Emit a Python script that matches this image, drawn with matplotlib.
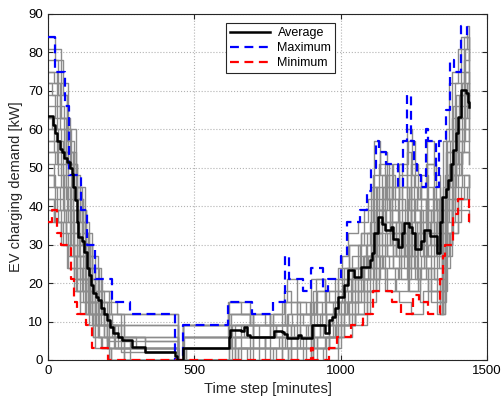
import matplotlib
matplotlib.use("Agg")
import matplotlib.pyplot as plt
import numpy as np

plt.rcParams['font.family'] = ['Liberation Sans', 'DejaVu Sans']

# breakpoints (time [min], demand [kW]) of the step curves
avg_curve = [(0, 63.5), (18, 61), (24, 59), (30, 57), (40, 55), (47, 54), (55, 52.5), (64, 51.5),
             (75, 50), (81, 48.5), (87, 45), (92, 41.5), (98, 36), (104, 32), (116, 31), (122, 28),
             (132, 24), (140, 22), (148, 19.5), (155, 17.5), (165, 16.5), (172, 15.5), (180, 13.5),
             (190, 12), (200, 10.5), (212, 8.5), (223, 7), (240, 6), (252, 5.2), (286, 3.5),
             (331, 2.1), (434, 1), (440, 0), (461, 3.1), (618, 6), (622, 7.8), (660, 7.5),
             (670, 8.5), (680, 6.5), (689, 6), (765, 6), (771, 7.6), (800, 7.2), (805, 6.8),
             (818, 5.6), (855, 6.6), (865, 5.6), (901, 9.1), (947, 7), (960, 10.4), (969, 11.3),
             (980, 13.5), (992, 16.5), (1010, 19.5), (1026, 23.4), (1046, 21.6), (1070, 24.3),
             (1100, 26), (1106, 27.8), (1115, 33), (1128, 37.3), (1140, 35.5), (1150, 33.8),
             (1172, 34.6), (1180, 31.5), (1195, 29.4), (1210, 33), (1218, 35.6), (1235, 34.5),
             (1245, 33), (1255, 29), (1275, 31), (1285, 33.8), (1305, 32.2), (1330, 27.8),
             (1340, 36), (1347, 42.4), (1360, 44.5), (1368, 46.8), (1378, 51), (1385, 54.6),
             (1395, 59), (1402, 63.2), (1412, 70.2), (1428, 69.5), (1436, 67), (1440, 65.9)]

max_curve = [(0, 84), (24, 75), (58, 66), (72, 48), (113, 39), (133, 30), (160, 21), (217, 15),
             (280, 12), (434, 0), (461, 9), (615, 15), (696, 12), (769, 15), (810, 27), (825, 21),
             (872, 18), (900, 24), (940, 18), (958, 21), (1000, 27), (1020, 36), (1066, 39),
             (1089, 44), (1105, 50), (1120, 57), (1132, 54), (1155, 51), (1197, 45), (1213, 57),
             (1225, 69), (1240, 57), (1250, 51), (1260, 48), (1275, 45), (1290, 60), (1300, 57),
             (1325, 45), (1336, 57), (1360, 65), (1375, 78), (1388, 75), (1412, 87), (1433, 84),
             (1440, 84)]

min_curve = [(0, 36), (14, 39), (32, 33), (45, 30), (80, 21), (88, 15), (100, 12), (130, 9),
             (150, 3), (205, 0), (897, 3), (905, 0), (960, 3), (988, 6), (1035, 9), (1075, 12),
             (1110, 18), (1175, 15), (1205, 12), (1248, 17), (1268, 15), (1297, 12), (1340, 21),
             (1348, 27), (1358, 30), (1385, 38), (1400, 42), (1437, 36), (1440, 36)]

gray_scenarios = [
    [(0, 81), (20, 81), (45, 72), (70, 60), (95, 45), (125, 33), (150, 24), (180, 15), (235, 12),
     (434, 12), (445, 0), (460, 9), (620, 15), (690, 9), (760, 12), (800, 15), (815, 21), (850, 12),
     (905, 18), (960, 15), (1010, 24), (1065, 30), (1115, 42), (1130, 51), (1165, 39), (1200, 30),
     (1225, 48), (1250, 36), (1290, 42), (1330, 30), (1360, 54), (1385, 66), (1420, 78), (1440, 72)],
    [(0, 78), (35, 69), (65, 57), (90, 48), (110, 36), (140, 27), (170, 18), (210, 9), (434, 9),
     (445, 0), (462, 6), (625, 12), (700, 6), (770, 9), (820, 12), (870, 9), (910, 15), (990, 18),
     (1040, 27), (1090, 33), (1120, 45), (1150, 36), (1190, 27), (1230, 36), (1260, 30), (1295, 45),
     (1320, 33), (1345, 27), (1365, 48), (1395, 60), (1425, 69), (1440, 66)],
    [(0, 75), (30, 66), (55, 54), (85, 42), (115, 30), (145, 21), (185, 12), (250, 6), (434, 6),
     (445, 0), (465, 3), (630, 9), (680, 6), (740, 3), (800, 9), (860, 6), (900, 12), (950, 9),
     (1000, 15), (1050, 21), (1095, 27), (1115, 36), (1145, 45), (1175, 33), (1215, 24), (1240, 39),
     (1270, 30), (1305, 36), (1335, 24), (1360, 39), (1390, 51), (1415, 57), (1440, 54)],
    [(0, 72), (40, 63), (75, 51), (100, 39), (130, 27), (160, 15), (200, 9), (260, 3), (434, 3),
     (445, 0), (470, 3), (640, 6), (720, 3), (790, 6), (830, 3), (905, 9), (960, 6), (1010, 12),
     (1060, 18), (1100, 24), (1120, 30), (1160, 27), (1200, 33), (1230, 21), (1275, 27), (1310, 18),
     (1340, 15), (1355, 30), (1380, 42), (1420, 48), (1440, 45)],
    [(0, 69), (25, 63), (60, 54), (95, 42), (120, 30), (150, 18), (190, 6), (260, 0), (650, 3),
     (700, 0), (820, 3), (880, 0), (905, 6), (960, 3), (1000, 9), (1040, 12), (1090, 18), (1120, 27),
     (1150, 21), (1190, 18), (1230, 24), (1270, 15), (1300, 21), (1340, 12), (1355, 27), (1380, 39),
     (1400, 42), (1440, 42)],
    [(0, 66), (30, 60), (60, 51), (85, 45), (115, 33), (140, 24), (175, 12), (220, 6), (434, 6),
     (445, 0), (462, 9), (690, 12), (760, 9), (810, 15), (860, 12), (915, 21), (945, 15), (990, 21),
     (1030, 30), (1080, 39), (1110, 48), (1135, 54), (1160, 45), (1200, 51), (1230, 57), (1255, 45),
     (1290, 51), (1325, 39), (1350, 57), (1370, 72), (1400, 81), (1430, 87), (1440, 78)],
    [(0, 63), (20, 57), (50, 48), (80, 39), (105, 30), (135, 21), (160, 12), (200, 3), (434, 3),
     (445, 0), (465, 6), (700, 9), (780, 6), (830, 9), (890, 6), (930, 12), (980, 18), (1020, 24),
     (1070, 33), (1105, 30), (1130, 42), (1170, 33), (1210, 39), (1240, 51), (1265, 42), (1300, 33),
     (1330, 42), (1350, 36), (1370, 51), (1400, 63), (1425, 75), (1440, 63)],
    [(0, 60), (45, 54), (70, 45), (100, 36), (125, 24), (150, 15), (180, 9), (240, 6), (330, 2),
     (445, 0), (620, 6), (660, 3), (740, 6), (800, 3), (880, 6), (920, 3), (960, 9), (1010, 15),
     (1060, 21), (1100, 27), (1130, 36), (1170, 30), (1205, 21), (1240, 30), (1275, 39), (1310, 30),
     (1345, 21), (1360, 42), (1390, 54), (1420, 60), (1440, 57)],
    [(0, 57), (30, 51), (60, 42), (85, 33), (110, 24), (140, 15), (165, 9), (210, 3), (280, 0),
     (640, 3), (700, 6), (760, 3), (830, 0), (900, 3), (950, 6), (1000, 12), (1040, 18), (1080, 24),
     (1110, 33), (1140, 39), (1175, 45), (1200, 36), (1235, 27), (1260, 36), (1295, 27), (1325, 36),
     (1345, 30), (1365, 45), (1395, 57), (1420, 66), (1440, 60)],
    [(0, 54), (35, 48), (55, 39), (90, 30), (120, 21), (145, 12), (175, 6), (230, 3), (434, 3),
     (445, 0), (462, 3), (680, 0), (770, 3), (850, 6), (900, 9), (940, 6), (985, 12), (1025, 18),
     (1070, 21), (1110, 30), (1125, 39), (1155, 33), (1190, 27), (1220, 33), (1250, 24), (1285, 33),
     (1320, 27), (1345, 18), (1365, 36), (1390, 45), (1415, 54), (1440, 51)],
    [(0, 51), (20, 45), (50, 39), (80, 30), (100, 21), (130, 15), (160, 9), (200, 6), (250, 2),
     (445, 0), (470, 3), (640, 9), (700, 6), (780, 9), (840, 6), (900, 12), (950, 9), (1050, 15),
     (1080, 21), (1115, 27), (1145, 24), (1180, 30), (1220, 27), (1260, 21), (1300, 24), (1330, 18),
     (1355, 33), (1380, 48), (1405, 63), (1430, 72), (1440, 69)],
    [(0, 48), (25, 42), (55, 36), (75, 27), (100, 18), (130, 12), (155, 6), (185, 3), (215, 0),
     (650, 3), (720, 0), (800, 3), (850, 0), (905, 3), (950, 0), (990, 6), (1040, 9), (1090, 15),
     (1120, 21), (1160, 18), (1200, 15), (1240, 12), (1280, 18), (1330, 12), (1355, 24), (1375, 33),
     (1400, 39), (1440, 36)],
    [(0, 45), (30, 39), (60, 30), (90, 24), (115, 18), (140, 12), (170, 6), (205, 3), (330, 2),
     (445, 0), (630, 3), (760, 0), (820, 3), (900, 6), (980, 9), (1030, 12), (1080, 18), (1120, 24),
     (1150, 18), (1185, 24), (1230, 18), (1270, 24), (1310, 15), (1345, 12), (1350, 30), (1380, 36),
     (1410, 45), (1440, 48)],
    [(0, 42), (20, 39), (45, 33), (70, 27), (95, 21), (120, 15), (150, 9), (190, 6), (240, 3),
     (445, 0), (462, 6), (680, 9), (760, 6), (880, 9), (930, 6), (990, 15), (1040, 24), (1090, 27),
     (1120, 39), (1140, 48), (1165, 42), (1200, 45), (1240, 33), (1275, 48), (1300, 39), (1340, 30),
     (1365, 54), (1395, 69), (1425, 81), (1440, 75)],
    [(0, 39), (20, 36), (50, 30), (65, 24), (90, 18), (110, 12), (140, 9), (170, 6), (200, 3),
     (260, 0), (640, 6), (700, 3), (815, 9), (850, 3), (900, 0), (940, 3), (990, 9), (1050, 15),
     (1090, 21), (1130, 30), (1170, 36), (1205, 30), (1240, 39), (1270, 33), (1300, 42), (1335, 33),
     (1360, 45), (1385, 60), (1415, 72), (1440, 69)],
    [(0, 36), (20, 39), (35, 36), (60, 30), (90, 21), (110, 15), (135, 12), (160, 3), (210, 0),
     (660, 3), (740, 0), (800, 3), (870, 0), (920, 3), (960, 6), (1010, 9), (1050, 12), (1100, 18),
     (1130, 24), (1160, 21), (1200, 27), (1235, 18), (1265, 24), (1300, 18), (1340, 12), (1350, 27),
     (1370, 33), (1400, 42), (1430, 45), (1440, 42)],
    [(0, 84), (24, 78), (50, 69), (65, 60), (80, 51), (100, 42), (120, 33), (135, 24), (160, 18),
     (215, 12), (434, 12), (445, 0), (461, 9), (615, 15), (660, 12), (740, 9), (810, 15), (880, 12),
     (920, 18), (980, 21), (1005, 27), (1025, 33), (1060, 36), (1095, 42), (1115, 57), (1135, 48),
     (1155, 42), (1180, 51), (1210, 39), (1225, 60), (1245, 48), (1275, 42), (1295, 57), (1320, 48),
     (1340, 39), (1360, 60), (1380, 75), (1410, 84), (1440, 81)],
    [(0, 72), (15, 69), (40, 60), (60, 51), (85, 39), (105, 27), (130, 18), (150, 12), (190, 9),
     (250, 5), (434, 5), (445, 0), (462, 3), (625, 6), (660, 9), (720, 6), (815, 12), (835, 9),
     (895, 15), (935, 9), (975, 15), (1005, 21), (1040, 18), (1075, 27), (1105, 39), (1120, 33),
     (1140, 42), (1170, 36), (1195, 42), (1220, 30), (1240, 45), (1260, 39), (1280, 27), (1310, 39),
     (1335, 27), (1350, 45), (1375, 57), (1405, 69), (1440, 63)],
    [(0, 63), (15, 60), (35, 54), (60, 45), (75, 36), (100, 27), (125, 18), (150, 12), (175, 9),
     (225, 3), (434, 3), (445, 0), (462, 9), (615, 12), (690, 9), (770, 12), (805, 18), (830, 12),
     (900, 21), (945, 12), (990, 18), (1020, 21), (1060, 30), (1100, 36), (1110, 45), (1130, 39),
     (1160, 48), (1185, 39), (1210, 45), (1235, 39), (1260, 42), (1290, 36), (1315, 45), (1340, 33),
     (1355, 48), (1380, 63), (1410, 75), (1440, 72)],
    [(0, 57), (20, 54), (45, 45), (70, 36), (90, 27), (110, 21), (135, 15), (165, 9), (200, 5),
     (280, 3), (434, 3), (445, 0), (462, 6), (615, 9), (670, 6), (760, 9), (830, 6), (860, 12),
     (920, 9), (970, 12), (1015, 18), (1050, 24), (1085, 30), (1110, 24), (1140, 33), (1160, 27),
     (1190, 36), (1215, 27), (1245, 36), (1270, 27), (1300, 30), (1330, 24), (1350, 39), (1370, 48),
     (1395, 57), (1425, 63), (1440, 60)],
    [(0, 54), (25, 51), (50, 45), (65, 39), (85, 33), (105, 27), (125, 21), (145, 15), (170, 12),
     (210, 9), (260, 6), (330, 5), (434, 5), (445, 0), (462, 3), (620, 9), (700, 12), (760, 9),
     (815, 6), (870, 3), (910, 9), (950, 12), (995, 15), (1035, 21), (1080, 27), (1105, 33),
     (1125, 27), (1150, 33), (1180, 24), (1205, 30), (1235, 24), (1265, 33), (1290, 24), (1320, 21),
     (1345, 15), (1360, 33), (1385, 51), (1415, 60), (1440, 57)],
    [(0, 48), (20, 45), (40, 39), (60, 33), (85, 27), (110, 21), (135, 18), (160, 12), (190, 9),
     (230, 6), (300, 3), (434, 3), (445, 0), (620, 3), (690, 6), (740, 3), (810, 6), (860, 3),
     (920, 6), (975, 12), (1020, 15), (1060, 21), (1100, 24), (1120, 33), (1140, 30), (1175, 39),
     (1200, 33), (1230, 42), (1255, 33), (1290, 39), (1320, 30), (1345, 24), (1360, 39), (1385, 48),
     (1410, 54), (1440, 51)],
    [(0, 42), (25, 36), (45, 30), (70, 24), (95, 18), (125, 12), (155, 6), (180, 3), (215, 0),
     (690, 3), (780, 0), (830, 6), (900, 3), (945, 6), (985, 9), (1030, 15), (1070, 18), (1110, 21),
     (1135, 27), (1165, 24), (1195, 21), (1225, 30), (1255, 21), (1290, 27), (1320, 21), (1340, 18),
     (1355, 30), (1380, 42), (1400, 48), (1440, 45)],
    [(0, 75), (20, 72), (45, 63), (70, 54), (90, 45), (110, 39), (130, 30), (150, 21), (170, 15),
     (210, 12), (260, 9), (434, 9), (445, 0), (462, 6), (620, 12), (700, 9), (770, 12), (800, 9),
     (850, 15), (900, 12), (950, 18), (990, 24), (1030, 30), (1070, 33), (1105, 45), (1125, 39),
     (1150, 51), (1175, 42), (1200, 48), (1225, 54), (1240, 42), (1270, 45), (1295, 51), (1320, 42),
     (1345, 36), (1365, 57), (1390, 72), (1420, 84), (1440, 78)],
]


def split(curve):
    t, v = zip(*curve)
    return np.array(t), np.array(v)


fig = plt.figure(figsize=(5.02, 4.03), dpi=100)
ax = fig.add_axes([48 / 502, 1 - 360 / 403, 439 / 502, 346 / 403])

for sc in gray_scenarios:
    t, v = split(sc)
    ax.plot(t, v, drawstyle='steps-post', color='0.55', lw=1.0, zorder=2)

t, v = split(avg_curve)
h_avg, = ax.plot(t, v, drawstyle='steps-post', color='black', lw=1.8, zorder=4, label='Average')
t, v = split(max_curve)
h_max, = ax.plot(t, v, drawstyle='steps-post', color='blue', lw=1.6, ls=(0, (4, 2.5)), zorder=3,
                 label='Maximum')
t, v = split(min_curve)
h_min, = ax.plot(t, v, drawstyle='steps-post', color='red', lw=1.6, ls=(0, (4, 2.5)), zorder=3,
                 label='Minimum')

ax.set_xlim(0, 1500)
ax.set_ylim(0, 90)
ax.set_xticks([0, 500, 1000, 1500])
ax.set_yticks(np.arange(0, 91, 10))
ax.grid(True, ls=':', color='0.7', lw=0.8)
ax.set_axisbelow(True)
ax.tick_params(direction='in', top=True, right=True, labelsize=9.5, length=3.5, color='0.15')
for s in ax.spines.values():
    s.set_color('0.15')
    s.set_linewidth(0.8)

ax.set_xlabel('Time step [minutes]', fontsize=10.5, color='0.15')
ax.set_ylabel('EV charging demand [kW]', fontsize=10.5, color='0.15')

leg = ax.legend(handles=[h_avg, h_max, h_min], loc='upper left',
                bbox_to_anchor=(220 / 502, 1 - 17 / 403), bbox_transform=fig.transFigure,
                fontsize=9, fancybox=False, framealpha=1, edgecolor='0.15',
                handlelength=3.2, borderpad=0.3, labelspacing=0.25, handletextpad=0.6)
leg.get_frame().set_linewidth(0.8)

fig.savefig('out.png', dpi=100)
